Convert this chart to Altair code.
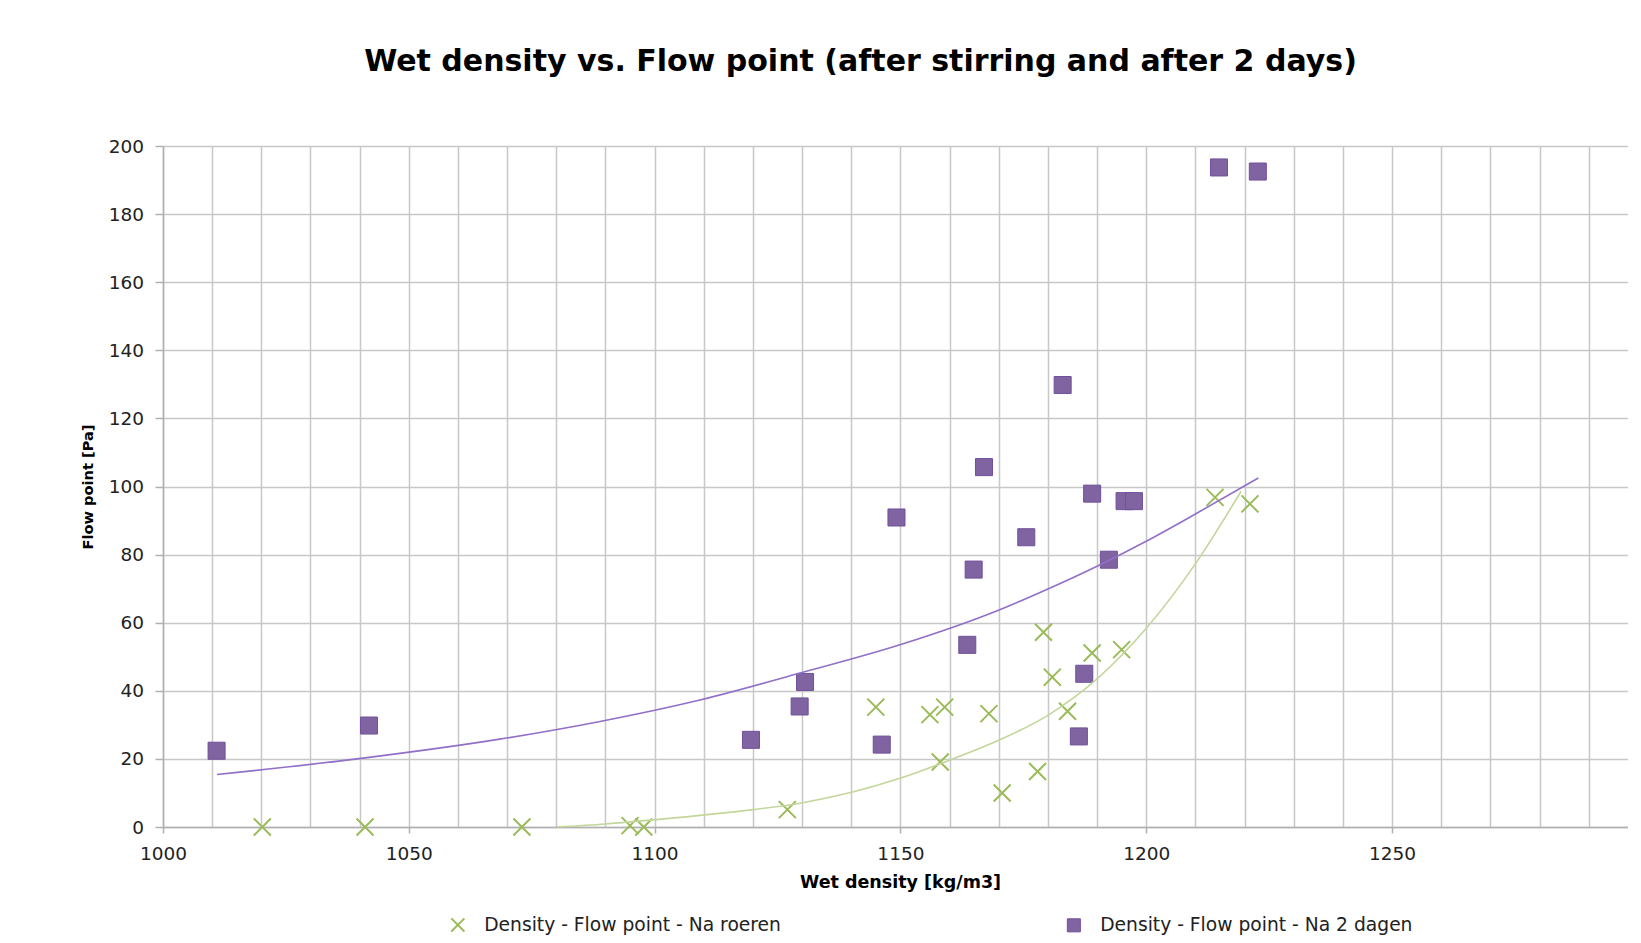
import altair as alt
import pandas as pd

# ---- data ----
series_names = ["Density - Flow point - Na roeren", "Density - Flow point - Na 2 dagen"]

roeren_x = [1020.2, 1041.1, 1073.0, 1095.0, 1097.8, 1127.0, 1145.0, 1156.0, 1158.1, 1159.0,
            1168.0, 1170.7, 1177.9, 1179.1, 1180.9, 1184.0, 1189.0, 1195.0, 1214.0, 1221.1]
roeren_y = [0.0, 0.0, 0.0, 0.4, 0.0, 5.1, 35.2, 33.0, 19.1, 35.2,
            33.3, 10.0, 16.3, 57.2, 44.0, 34.0, 51.1, 52.1, 96.8, 94.9]

dagen_x = [1010.9, 1041.9, 1119.6, 1129.5, 1130.6, 1146.2, 1149.2, 1163.6, 1164.9, 1167.0,
           1175.6, 1183.0, 1186.3, 1187.4, 1189.0, 1192.4, 1195.6, 1197.5, 1214.8, 1222.7]
dagen_y = [22.4, 29.8, 25.6, 35.4, 42.6, 24.2, 90.9, 53.5, 75.6, 105.7,
           85.1, 129.8, 26.6, 45.0, 97.9, 78.5, 95.7, 95.7, 193.7, 192.5]

# trendlines, values
roeren_trend_x = [1080.2, 1090.0, 1099.7, 1120.0, 1129.6, 1149.9, 1158.1, 1170.2, 1180.0, 1190.0, 1200.1, 1210.1, 1219.3]
roeren_trend_y = [0.0, 0.9, 2.1, 5.1, 7.0, 14.3, 18.6, 25.6, 32.8, 43.5, 58.5, 77.5, 98.6]

dagen_trend_x = [1011.0, 1041.1, 1068.5, 1088.9, 1109.2, 1129.6, 1149.9, 1170.2, 1180.0, 1190.0, 1200.1, 1210.1, 1222.8]
dagen_trend_y = [15.4, 20.3, 25.8, 31.0, 37.3, 45.2, 53.5, 63.8, 69.9, 76.6, 84.0, 92.0, 102.5]

x_grid_values = list(range(1000, 1300, 10))
y_tick_values = list(range(0, 201, 20))

df = pd.DataFrame({
    "density": roeren_x + dagen_x,
    "flow": roeren_y + dagen_y,
    "series": [series_names[0]] * len(roeren_x) + [series_names[1]] * len(dagen_x),
})
df_trend_roeren = pd.DataFrame({"density": roeren_trend_x, "flow": roeren_trend_y})
df_trend_dagen = pd.DataFrame({"density": dagen_trend_x, "flow": dagen_trend_y})

GREEN = "#9BBB59"
GREEN_TREND = "#C3D69B"
PURPLE = "#8064A2"
PURPLE_EDGE = "#70509A"
PURPLE_TREND = "#9070C8"
X_PATH = "M-1,-1L1,1M-1,1L1,-1"
FONT = "DejaVu Sans"

x_enc = alt.X(
    "density:Q",
    scale=alt.Scale(domain=[1000, 1298], nice=False, zero=False),
    axis=alt.Axis(
        values=x_grid_values,
        format="d",
        labelExpr="datum.value % 50 === 0 ? datum.label : ''",
        labelFlush=False,
        tickOpacity={"condition": {"test": "datum.value % 50 === 0", "value": 1}, "value": 0},
        tickSize=6,
        labelPadding=20,
        labelBaseline="middle",
        title="Wet density [kg/m3]",
        titleX=737,
        titleY=55,
        titleAlign="center",
        titleBaseline="middle",
        titleFontSize=17.5,
    ),
)
y_enc = alt.Y(
    "flow:Q",
    scale=alt.Scale(domain=[0, 200], nice=False),
    axis=alt.Axis(
        values=y_tick_values,
        tickSize=8,
        labelPadding=11.5,
        title="Flow point [Pa]",
        titleAngle=270,
        titleX=-75,
        titleY=340.5,
        titleAlign="center",
        titleBaseline="middle",
        titleFontSize=14.6,
    ),
)

legend = alt.Legend(
    title=None,
    orient="none",
    direction="horizontal",
    legendX=285.5,
    legendY=769.5,
    labelOffset=17,
    columnPadding=283,
    symbolSize=170,
    symbolStrokeWidth=1.5,
    labelLimit=600,
    labelFont=FONT,
    labelFontSize=18.7,
    labelColor="#222222",
    padding=0,
)

points = alt.Chart(df).mark_point(size=290, opacity=1).encode(
    x=x_enc,
    y=y_enc,
    shape=alt.Shape("series:N", scale=alt.Scale(domain=series_names, range=[X_PATH, "square"]), legend=legend),
    fill=alt.Fill("series:N", scale=alt.Scale(domain=series_names, range=["transparent", PURPLE]), legend=legend),
    stroke=alt.Stroke("series:N", scale=alt.Scale(domain=series_names, range=[GREEN, PURPLE_EDGE]), legend=legend),
    strokeWidth=alt.StrokeWidth("series:N", scale=alt.Scale(domain=series_names, range=[2, 1]), legend=None),
)

trend_green = alt.Chart(df_trend_roeren).mark_line(
    color=GREEN_TREND, strokeWidth=1.6, interpolate="monotone"
).encode(x=x_enc, y=y_enc)

trend_purple = alt.Chart(df_trend_dagen).mark_line(
    color=PURPLE_TREND, strokeWidth=1.6, interpolate="monotone"
).encode(x=x_enc, y=y_enc)

chart = (
    alt.layer(points, trend_green, trend_purple)
    .properties(
        width=1465,
        height=681,
        autosize=alt.AutoSizeParams(type="none"),
        padding={"left": 155, "top": 138, "right": 0, "bottom": 108},
        title=alt.TitleParams(
            text="Wet density vs. Flow point (after stirring and after 2 days)",
            font=FONT,
            fontSize=30,
            fontWeight="bold",
            color="#000000",
            anchor="middle",
            dx=-35,
            offset=60,
        ),
        background="white",
    )
    .configure_view(stroke=None)
    .configure_axis(
        labelFont=FONT,
        labelFontSize=18.5,
        labelColor="#222222",
        titleFont=FONT,
        titleFontWeight="bold",
        titleColor="#000000",
        gridColor="#C8C8C8",
        gridWidth=1.5,
        gridOpacity=1,
        domainColor="#B0B0B0",
        domainWidth=1.5,
        tickColor="#B0B0B0",
        tickWidth=1.5,
    )
)

chart.save("out.html", embed_options={"renderer": "svg", "actions": False})
